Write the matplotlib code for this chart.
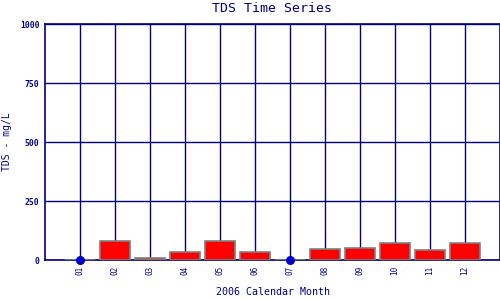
import numpy as np
import matplotlib
matplotlib.use("Agg")
import matplotlib.pyplot as plt

months = ["01", "02", "03", "04", "05", "06", "07", "08", "09", "10", "11", "12"]
tds = [np.nan, 80, 7, 33, 80, 33, np.nan, 45, 50, 71, 41, 71]
zero_months = ["01", "07"]
zero_vals = [0, 0]
yticks = [0, 250, 500, 750, 1000]

navy = "#000080"
plt.rcParams["font.family"] = ["DejaVu Sans Mono"]

fig = plt.figure(figsize=(5, 3), dpi=100)
ax = fig.add_axes([0.09, 0.1333, 0.91, 0.7867])

pos = np.arange(1, len(months) + 1)
ax.bar(pos, np.nan_to_num(tds), width=0.857, color="red", edgecolor="#808080",
       linewidth=1.2, zorder=3)
zpos = [months.index(m) + 1 for m in zero_months]
ax.plot(zpos, zero_vals, "o", color="#0000CC", markersize=5.5, zorder=4,
        clip_on=False)

ax.set_xlim(0, 13)
ax.set_ylim(0, 1000)
ax.set_xticks(pos)
ax.set_xticklabels(months, rotation=90, fontsize=5.5, color=navy)
ax.set_yticks(yticks)
ax.set_yticklabels([str(v) for v in yticks], fontsize=5.8, color=navy,
                   fontweight="bold")
ax.tick_params(length=0, pad=4)
ax.grid(True, color=navy, linewidth=1.0, zorder=1)
ax.set_axisbelow(True)
for s in ax.spines.values():
    s.set_color(navy)
    s.set_linewidth(1.2)

ax.set_title("TDS Time Series", fontsize=9.5, color=navy, pad=9)
ax.set_xlabel("2006 Calendar Month", fontsize=7.2, color=navy, labelpad=9)
ax.set_ylabel("TDS - mg/L", fontsize=7, color=navy, labelpad=6)

fig.savefig("out.png", dpi=100)
